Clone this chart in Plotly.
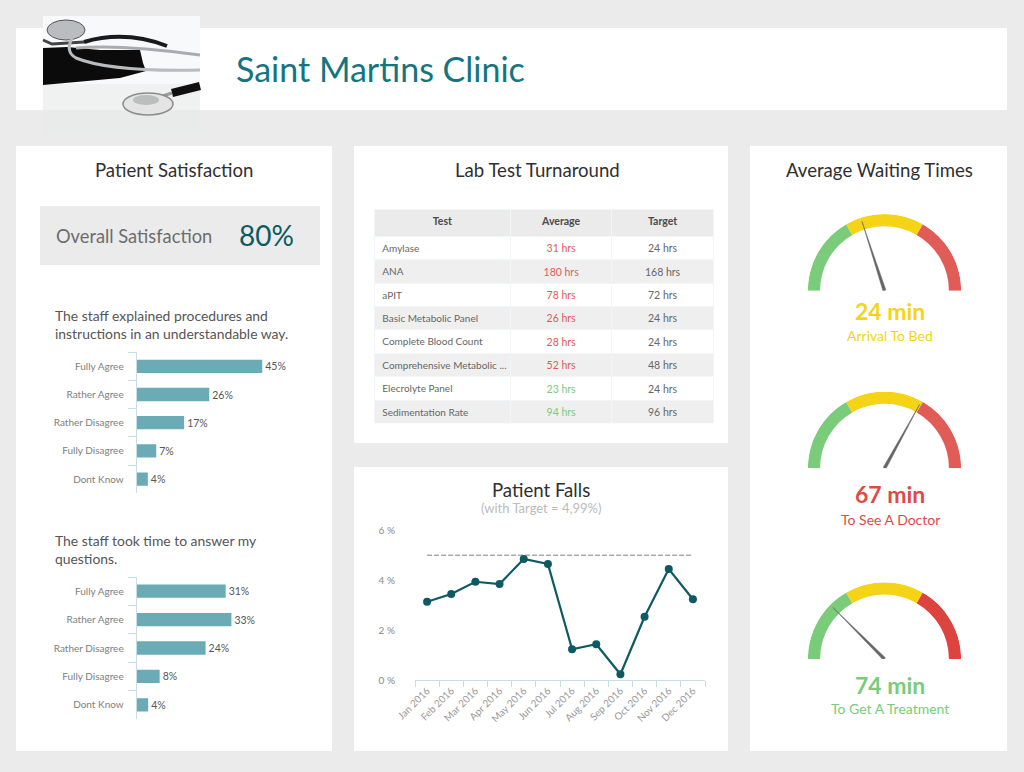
import plotly.graph_objects as go

W = 1024
H = 772
FONT = "Lato"

# bar charts
answers = ["Fully Agree", "Rather Agree", "Rather Disagree", "Fully Disagree", "Dont Know"]
explained_values = [45, 26, 17, 7, 4]
answered_values = [31, 33, 24, 8, 4]

# lab tests
tests = ["Amylase", "ANA", "aPIT", "Basic Metabolic Panel", "Complete Blood Count",
         "Comprehensive\u00a0Metabolic\u00a0...", "Elecrolyte Panel", "Sedimentation Rate"]
test_average = [31, 180, 78, 26, 28, 52, 23, 94]
test_target = [24, 168, 72, 24, 24, 48, 24, 96]

# patient falls
months = ["Jan 2016", "Feb 2016", "Mar 2016", "Apr 2016", "May 2016", "Jun 2016",
          "Jul 2016", "Aug 2016", "Sep 2016", "Oct 2016", "Nov 2016", "Dec 2016"]
falls = [3.13, 3.44, 3.93, 3.84, 4.84, 4.64, 1.23, 1.43, 0.23, 2.53, 4.44, 3.23]
falls_target = [4.99] * 12

# gauges, needle is share of the dial from left to right
gauge_names = ["Arrival To Bed", "To See A Doctor", "To Get A Treatment"]
gauge_minutes = [24, 67, 74]
gauge_needle = [0.40, 0.66, 0.25]

TEAL = "#0e5a63"
BAR = "#6aabb5"
AXIS = "#c9dde6"
GREEN = "#7acb7a"
YELLOW = "#f5d417"
RED = "#e15b57"


def px_x(x):
    return x / W


def px_y(y):
    return 1 - y / H


def label(text, x, y, size, color, anchor="center", weight="normal"):
    return dict(text=text, x=px_x(x), y=px_y(y), xref="paper", yref="paper", showarrow=False,
                xanchor=anchor, yanchor="middle", align=anchor,
                font=dict(family=FONT, size=size, color=color, weight=weight))


def box(x0, y0, x1, y1, color):
    return dict(type="rect", xref="paper", yref="paper", x0=px_x(x0), x1=px_x(x1),
                y0=px_y(y0), y1=px_y(y1), fillcolor=color, line_width=0, layer="below")


def path(points, fill=None, line=None, width=0):
    # points are pixels on the page, curves use Q with control point first
    d = ""
    for p in points:
        if len(p) == 3:
            d += f"{p[0]}{px_x(p[1])},{px_y(p[2])} "
        else:
            d += f"Q{px_x(p[1])},{px_y(p[2])} {px_x(p[3])},{px_y(p[4])} "
    s = dict(type="path", xref="paper", yref="paper", path=d.strip(), layer="below",
             line=dict(color=line or "rgba(0,0,0,0)", width=width))
    if fill:
        s["fillcolor"] = fill
    return s


def oval(cx, cy, rx, ry, fill, line=None, width=0):
    return dict(type="circle", xref="paper", yref="paper", layer="below",
                x0=px_x(cx - rx), x1=px_x(cx + rx), y0=px_y(cy + ry), y1=px_y(cy - ry),
                fillcolor=fill, line=dict(color=line or "rgba(0,0,0,0)", width=width))


shapes = [
    box(16, 28, 1007, 110, "white"),
    box(16, 146, 332, 751, "white"),
    box(354, 146, 728, 443, "white"),
    box(354, 467, 728, 751, "white"),
    box(750, 146, 1007, 751, "white"),
    box(40, 206, 320, 265, "#ebebeb"),
    # photo
    box(43, 16, 200, 86, "#f7f9fa"),
    box(43, 84, 200, 112, "#f0f1f1"),
    box(43, 110, 200, 135, "#e9eaea"),
    path([("M", 43, 48), ("L", 67, 47), ("L", 100, 50), ("L", 140, 50), ("L", 143, 63),
          ("L", 146, 71), ("L", 120, 78), ("L", 43, 85), ("Z", 43, 85)], fill="#0b0b0b"),
    path([("M", 84, 42), ("Q", 125, 30, 167, 46)], line="#1a1a1a", width=4),
    path([("M", 43, 40), ("L", 52, 44), ("L", 84, 42)], line="#444444", width=3),
    oval(66, 30, 19, 10, "#b9bdbf", "#555555", 1),
    path([("M", 72, 38), ("Q", 65, 52, 76, 58), ("Q", 110, 72, 200, 70)], line="#b9bcbe", width=3),
    path([("M", 76, 48), ("Q", 120, 44, 200, 55)], line="#a9acae", width=3),
    path([("M", 172, 93), ("L", 200, 86)], line="#101010", width=8),
    path([("M", 150, 100), ("L", 172, 93)], line="#9a9a9a", width=3),
    oval(148, 104, 25, 11, "#e3e4e3", "#8c8c8c", 1.5),
    oval(146, 100, 13, 5, "#bcbebe"),
]

annotations = [
    label("Saint Martins Clinic", 234, 69, 34, "#14757f", "left"),
    label("Patient Satisfaction", 174, 170, 18.6, "#2f2f2f"),
    label("Lab Test Turnaround", 537, 170, 18.6, "#2f2f2f"),
    label("Patient Falls", 541, 490, 18.6, "#2f2f2f"),
    label("(with Target = 4,99%)", 541, 508, 13, "#bbbbbb"),
    label("Average Waiting Times", 879, 170, 18.6, "#2f2f2f"),
    label("Overall Satisfaction", 54, 236, 18.3, "#6d6d6d", "left"),
    label("80%", 237, 235, 28, TEAL, "left"),
    label("The staff explained procedures and", 53, 315, 13.9, "#555555", "left"),
    label("instructions in an understandable way.", 53, 333, 13.9, "#555555", "left"),
    label("The staff took time to answer my", 53, 540, 13.9, "#555555", "left"),
    label("questions.", 53, 558, 13.9, "#555555", "left"),
]

fig = go.Figure()

# two bar charts
bar_charts = [(explained_values, "x", "y", 352.2, 493.2, 139.5),
              (answered_values, "x2", "y2", 577, 719, 143.5)]
for i, (values, xa, ya, top, bottom, width) in enumerate(bar_charts):
    fig.add_trace(go.Bar(x=values, y=answers, orientation="h", xaxis=xa, yaxis=ya,
                         marker=dict(color=BAR, line_width=0), width=0.47,
                         text=[f"{v}%" for v in values], textposition="outside",
                         cliponaxis=False, textfont=dict(family=FONT, size=10.5, color="#555555")))
    suffix = "" if i == 0 else "2"
    fig.update_layout({
        "xaxis" + suffix: dict(domain=[px_x(136.7), px_x(136.7 + width)], range=[0, 50],
                               visible=False, anchor="y" + suffix),
        "yaxis" + suffix: dict(domain=[px_y(bottom), px_y(top)], type="category",
                               range=[4.5, -0.5], anchor="x" + suffix, tickson="boundaries",
                               ticks="outside", ticklen=8, tickcolor=AXIS, showline=True,
                               linecolor=AXIS, linewidth=1, showgrid=False, zeroline=False,
                               ticklabelstandoff=10,
                               tickfont=dict(family=FONT, size=10, color="#808080")),
    })

# table
avg_colors = [RED if a > t else GREEN for a, t in zip(test_average, test_target)]
row_fill = ["white" if i % 2 == 0 else "#efefef" for i in range(len(tests))]
fig.add_trace(go.Table(
    domain=dict(x=[px_x(374.3), px_x(714)], y=[px_y(424), px_y(209.3)]),
    columnwidth=[136.4, 101.6, 101.7],
    header=dict(values=["Test", "Average", "Target"], height=27, align="center",
                fill_color="#ebebeb", line_color="#f2f6f8",
                font=dict(family=FONT, size=10.5, color="#4a4a4a", weight="bold")),
    cells=dict(values=[tests, test_average, test_target], suffix=[None, " hrs", " hrs"], height=23.4,
               align=["left", "center", "center"], fill_color=[row_fill] * 3, line_color="#f2f6f8",
               font=dict(family=FONT, size=[10, 10.5, 10.5],
                         color=[["#666666"] * 8, avg_colors, ["#666666"] * 8])),
))

# patient falls
fig.add_trace(go.Scatter(x=months, y=falls_target, mode="lines", xaxis="x3", yaxis="y3",
                         line=dict(color="#aaaaaa", width=1.5, dash="5px,2px")))
fig.add_trace(go.Scatter(x=months, y=falls, mode="lines+markers", xaxis="x3", yaxis="y3",
                         line=dict(color=TEAL, width=2.2), marker=dict(color=TEAL, size=8),
                         cliponaxis=False))
fig.update_layout(
    xaxis3=dict(domain=[px_x(415), px_x(705)], anchor="y3", type="category", range=[-0.5, 11.5],
                tickson="boundaries", ticks="outside", ticklen=6, tickcolor=AXIS, showline=True,
                linecolor=AXIS, showgrid=False, zeroline=False, tickangle=-45,
                tickfont=dict(family=FONT, size=10, color="#999999")),
    yaxis3=dict(domain=[px_y(680), px_y(530)], anchor="x3", range=[0, 6], tick0=0, dtick=2,
                ticksuffix=" %", showgrid=False, zeroline=False, showline=False, ticks="",
                ticklabelstandoff=19,
                tickfont=dict(family=FONT, size=10, color="#888888")),
)

# gauges
gauge_centres = [(884.5, 290.7), (884.5, 468.3), (884.5, 659)]
gauge_reds = [RED, RED, "#dd433f"]
gauge_text = [YELLOW, "#dd4b47", GREEN]
text_rows = [(311, 335), (494, 519), (685, 708)]
RADIUS = 76.7
for i, (cx, cy) in enumerate(gauge_centres):
    polar = "polar" + (str(i + 1) if i else "")
    fig.add_trace(go.Barpolar(r=[0.16] * 3, base=[0.84] * 3, theta=[150, 90, 30], width=[60] * 3,
                              marker=dict(color=[GREEN, YELLOW, gauge_reds[i]], line_width=0),
                              subplot=polar))
    angle = 180 * (1 - gauge_needle[i])
    fig.add_trace(go.Scatterpolar(r=[0.02, 0.95, 0.02], theta=[angle - 90, angle, angle + 90],
                                  mode="lines", fill="toself", fillcolor="#666666",
                                  line=dict(color="#666666", width=0.5), subplot=polar))
    fig.update_layout({polar: dict(
        domain=dict(x=[px_x(cx - RADIUS), px_x(cx + RADIUS)], y=[px_y(cy), px_y(cy - RADIUS)]),
        sector=[0, 180], bgcolor="rgba(0,0,0,0)",
        radialaxis=dict(visible=False, range=[0, 1]),
        angularaxis=dict(visible=False, thetaunit="degrees"),
    )})
    annotations.append(label(f"{gauge_minutes[i]} min", 890, text_rows[i][0], 23, gauge_text[i], weight="bold"))
    annotations.append(label(gauge_names[i], 890, text_rows[i][1], 14, gauge_text[i]))

fig.update_layout(width=W, height=H, autosize=False, margin=dict(l=0, r=0, t=0, b=0, autoexpand=False),
                  paper_bgcolor="#ebebeb", plot_bgcolor="rgba(0,0,0,0)", showlegend=False,
                  barmode="overlay", shapes=shapes, annotations=annotations)

fig.write_html("out.html", config={"displayModeBar": False},
               post_script="document.body.style.margin='0';document.body.style.background='#ebebeb';")
